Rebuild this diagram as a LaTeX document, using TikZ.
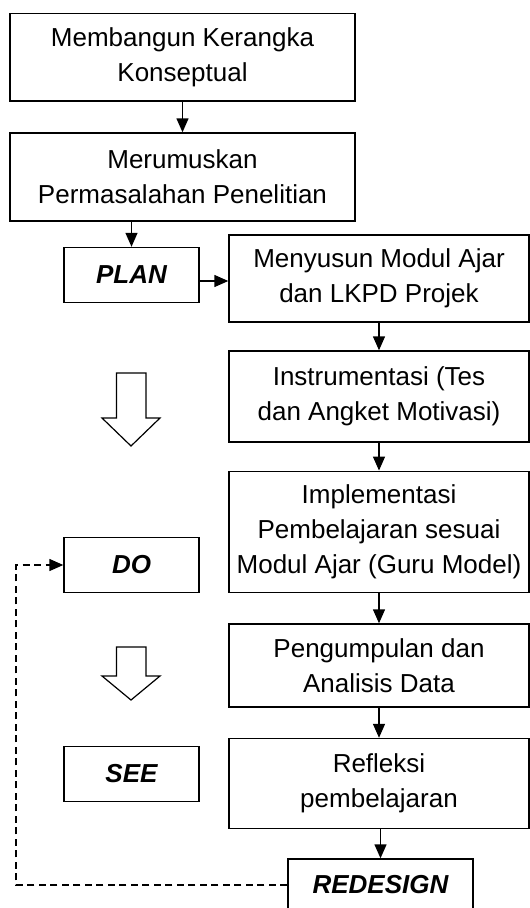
\documentclass[tikz,border=0pt]{standalone}
\usepackage{fontspec}
\setmainfont{Liberation Sans}
\usepackage{tikz}
\usetikzlibrary{arrows.meta}
\usetikzlibrary{positioning}
\tikzstyle{block} = [rectangle, draw, line width=1.4pt, align=center,
    minimum width=300pt, inner sep=0pt, font=\fontsize{26}{35}\selectfont]
\tikzstyle{phase} = [rectangle, draw, line width=1.4pt, align=center,
    minimum width=135pt, minimum height=55pt, inner sep=0pt,
    font=\fontsize{26}{35}\selectfont\bfseries\itshape]
\tikzstyle{line} = [draw, line width=1.4pt, -{Triangle[length=14pt,width=12pt]}]
\tikzstyle{loopline} = [draw, line width=1.4pt, dash pattern=on 7pt off 4.5pt,
    -{Triangle[length=14pt,width=12pt]}]
\tikzstyle{hollow} = [draw, line width=1.2pt, fill=white, line join=miter]

\begin{document}
\begin{tikzpicture}[x=1pt, y=1pt]
  \useasboundingbox (0,0) rectangle (530,-908);

  % Place nodes
  \node [block, minimum width=345pt, minimum height=87.5pt] (konsep) at (182.5,-57.3)
    {Membangun Kerangka\\Konseptual};
  \node [block, minimum width=345pt, minimum height=88pt, below of=konsep,
    node distance=119.7pt] (masalah) {Merumuskan\\Permasalahan Penelitian};
  \node [phase] (plan) at (131.5,-275) {PLAN};
  \node [block, minimum height=87pt] (modul) at (379,-278.5)
    {Menyusun Modul Ajar\\dan LKPD Projek};
  \node [block, minimum height=91pt, below of=modul, node distance=118pt] (instrumen)
    {Instrumentasi (Tes\\dan Angket Motivasi)};
  \node [block, minimum height=121.5pt, below of=instrumen, node distance=135.5pt] (implementasi)
    {Implementasi\\Pembelajaran sesuai\\Modul Ajar (Guru Model)};
  \node [phase] (do) at (131.5,-565) {DO};
  \node [block, minimum height=83pt, below of=implementasi, node distance=133.5pt] (analisis)
    {Pengumpulan dan\\Analisis Data};
  \node [phase, below of=do, node distance=209pt] (see) {SEE};
  \node [block, minimum height=90pt, below of=analisis, node distance=118pt] (refleksi)
    {Refleksi\\pembelajaran};
  \node [phase, minimum width=185pt, minimum height=52pt, below of=refleksi,
    node distance=101.5pt, xshift=1.5pt] (redesign) {REDESIGN};
  \coordinate (loopcorner) at (16,-885);

  % Draw edges
  \path [line] (konsep) -- (masalah);
  \path [line] (masalah.south -| plan) -- (plan);
  \path [line] ([yshift=-6pt]plan.east) -- ([yshift=-6pt]plan.east -| modul.west);
  \path [line] (modul) -- (instrumen);
  \path [line] (instrumen) -- (implementasi);
  \path [line] (implementasi) -- (analisis);
  \path [line] (analisis) -- (refleksi);
  \path [line] (refleksi.south -| redesign) -- (redesign);
  \path [loopline] (redesign) -- (loopcorner) |- (do);

  % Phase arrows
  \draw [hollow] (116.5,-373) -- (146,-373) -- (146,-418) -- (160,-418) -- (131,-446)
    -- (102,-418) -- (116.5,-418) -- cycle;
  \draw [hollow] (116.5,-647) -- (146,-647) -- (146,-676) -- (160,-676) -- (131,-700)
    -- (102,-676) -- (116.5,-676) -- cycle;
\end{tikzpicture}
\end{document}
